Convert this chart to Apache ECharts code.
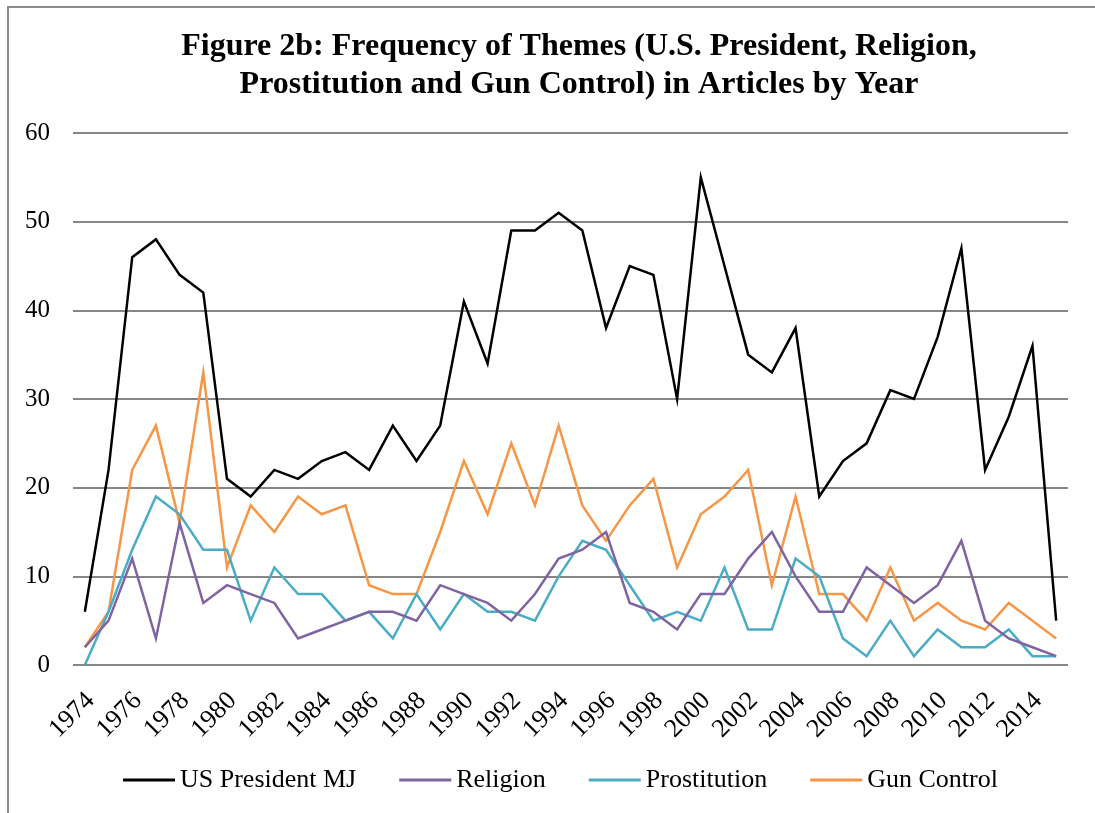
<!DOCTYPE html>
<html>
<head>
<meta charset="utf-8">
<script src="https://cdn.jsdelivr.net/npm/echarts@6/dist/echarts.min.js"></script>
<style>
  html, body { margin: 0; padding: 0; background: #fff; }
  #frame { position: absolute; left: 7px; top: 6px; right: -2px; bottom: -2px; border: 2px solid #8c8c8c; box-sizing: border-box; }
  #chart { position: absolute; left: 0; top: 0; width: 1095px; height: 813px; }
</style>
</head>
<body>
<div id="frame"></div>
<div id="chart"></div>
<script>
// Years covered by the article counts
const years = [];
for (let y = 1974; y <= 2015; y++) years.push(String(y));

// Number of articles per year mentioning each theme
const usPresident = [6, 22, 46, 48, 44, 42, 21, 19, 22, 21, 23, 24, 22, 27, 23, 27, 41, 34, 49, 49, 51,
  49, 38, 45, 44, 30, 55, 45, 35, 33, 38, 19, 23, 25, 31, 30, 37, 47, 22, 28, 36, 5];
const religion = [2, 5, 12, 3, 16, 7, 9, 8, 7, 3, 4, 5, 6, 6, 5, 9, 8, 7, 5, 8, 12,
  13, 15, 7, 6, 4, 8, 8, 12, 15, 10, 6, 6, 11, 9, 7, 9, 14, 5, 3, 2, 1];
const prostitution = [0, 6, 13, 19, 17, 13, 13, 5, 11, 8, 8, 5, 6, 3, 8, 4, 8, 6, 6, 5, 10,
  14, 13, 9, 5, 6, 5, 11, 4, 4, 12, 10, 3, 1, 5, 1, 4, 2, 2, 4, 1, 1];
const gunControl = [2, 6, 22, 27, 16, 33, 11, 18, 15, 19, 17, 18, 9, 8, 8, 15, 23, 17, 25, 18, 27,
  18, 14, 18, 21, 11, 17, 19, 22, 9, 19, 8, 8, 5, 11, 5, 7, 5, 4, 7, 5, 3];

const seriesNames = ['US President MJ', 'Religion', 'Prostitution', 'Gun Control'];
const seriesColors = ['#000000', '#8064A2', '#4BACC6', '#F79646'];
const seriesData = [usPresident, religion, prostitution, gunControl];

const serif = '"Liberation Serif", "Times New Roman", serif';

const chart = echarts.init(document.getElementById('chart'), null, { renderer: 'canvas' });
chart.setOption({
  backgroundColor: 'transparent',
  animation: false,
  title: {
    text: 'Figure 2b: Frequency of Themes (U.S. President, Religion,\nProstitution and Gun Control) in Articles by Year',
    left: 574,
    top: 23,
    textAlign: 'center',
    textStyle: {
      fontFamily: serif,
      fontWeight: 'bold',
      fontSize: 32,
      lineHeight: 38,
      color: '#000'
    }
  },
  legend: {
    bottom: 15,
    left: 118,
    itemWidth: 52,
    itemHeight: 3,
    itemGap: 43,
    icon: 'rect',
    textStyle: { fontFamily: serif, fontSize: 26, color: '#000' },
    data: seriesNames
  },
  grid: { left: 73, right: 27, top: 133, bottom: 148, containLabel: false },
  xAxis: {
    type: 'category',
    data: years,
    boundaryGap: true,
    axisLine: { show: false },
    axisTick: { show: false },
    axisLabel: {
      interval: 1,
      rotate: 45,
      margin: 19,
      verticalAlign: 'top',
      padding: [0, 5, 0, 0],
      fontFamily: serif,
      fontSize: 26,
      color: '#000'
    }
  },
  yAxis: {
    type: 'value',
    min: 0,
    max: 60,
    interval: 10,
    axisLine: { show: false },
    axisTick: { show: false },
    axisLabel: { fontFamily: serif, fontSize: 25, color: '#000', margin: 23 },
    splitLine: { lineStyle: { color: '#868686', width: 2 } }
  },
  series: seriesNames.map((name, i) => ({
    name: name,
    type: 'line',
    data: seriesData[i],
    symbol: 'none',
    lineStyle: { width: 2.5, color: seriesColors[i], join: 'miter' },
    itemStyle: { color: seriesColors[i] },
    z: 10 - i
  }))
});
</script>
</body>
</html>
